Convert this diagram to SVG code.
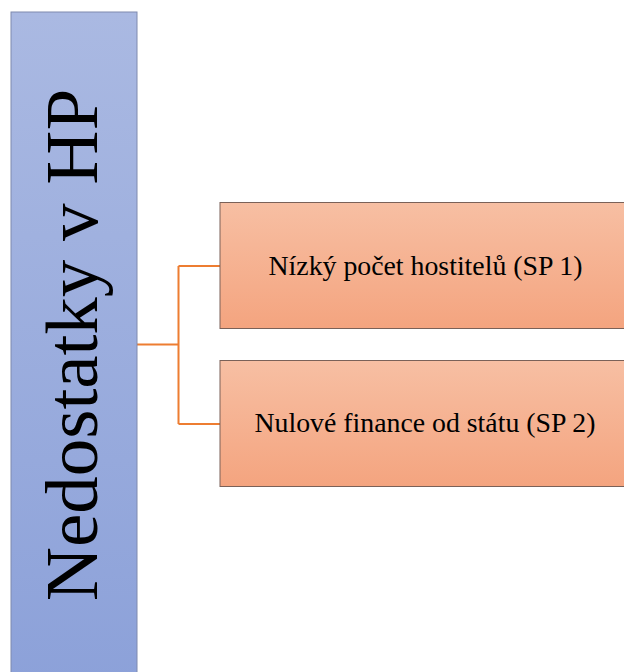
<svg xmlns="http://www.w3.org/2000/svg" width="624" height="672" viewBox="0 0 624 672">
<defs>
<linearGradient id="gb" x1="0" y1="0" x2="0" y2="1"><stop offset="0" stop-color="#AAB9E2"/><stop offset="1" stop-color="#8CA1D9"/></linearGradient>
<linearGradient id="go" x1="0" y1="0" x2="0" y2="1"><stop offset="0" stop-color="#F7BFA3"/><stop offset="1" stop-color="#F4A47F"/></linearGradient>
<style>
.t{font-family:"Liberation Serif","Times New Roman",serif;fill:#000}
.c{fill:none;stroke:#ED7D31;stroke-width:2}
</style>
</defs>
<rect width="624" height="672" fill="#fff"/>
<g id="connectors">
<path class="c" d="M137,344.5 H178.5 M178.5,266 V424 M178.5,266 H220 M178.5,424 H220"/>
</g>
<g id="root">
<rect x="11" y="12" width="126" height="672" fill="url(#gb)" stroke="#7E8AAE" stroke-width="1"/>
<text class="t" transform="translate(97,345) rotate(-90)" text-anchor="middle" font-size="75">Nedostatky v HP</text>
</g>
<g id="sp1">
<rect x="220" y="202.5" width="420" height="126" fill="url(#go)" stroke="#7A6158" stroke-width="1"/>
<text class="t" x="425.5" y="275" text-anchor="middle" font-size="27.8">Nízký počet hostitelů (SP 1)</text>
</g>
<g id="sp2">
<rect x="220" y="360.5" width="420" height="126" fill="url(#go)" stroke="#7A6158" stroke-width="1"/>
<text class="t" x="425" y="432" text-anchor="middle" font-size="27.8">Nulové finance od státu (SP 2)</text>
</g>
</svg>
